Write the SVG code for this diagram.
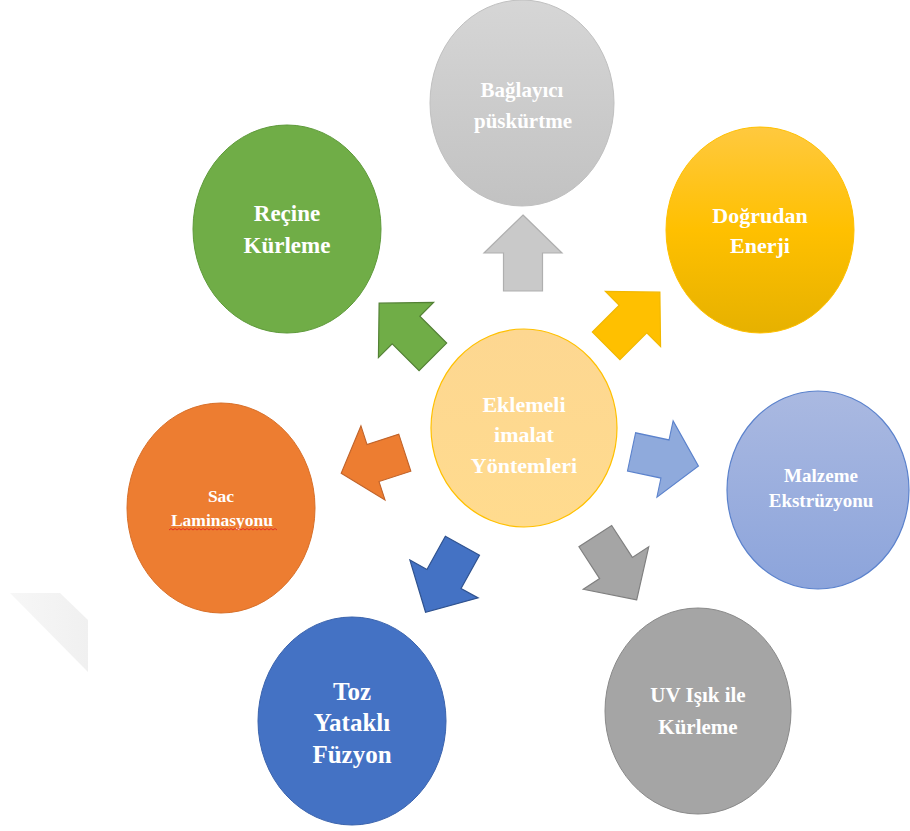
<svg xmlns="http://www.w3.org/2000/svg" xmlns:xlink="http://www.w3.org/1999/xlink" width="910" height="831" viewBox="0 0 910 831">
<style>
.t{font-family:"Liberation Serif","Times New Roman",serif;font-weight:bold;fill:#ffffff;text-anchor:middle}
.arr{stroke-width:1.2;stroke-linejoin:miter}
</style>
<defs>
<linearGradient id="gGray" x1="0" y1="0" x2="0" y2="1"><stop offset="0" stop-color="#D6D6D6"/><stop offset="1" stop-color="#C2C2C2"/></linearGradient>
<linearGradient id="gYel" x1="0" y1="0" x2="0" y2="1"><stop offset="0" stop-color="#FFC93F"/><stop offset="0.5" stop-color="#FFC000"/><stop offset="1" stop-color="#E6B100"/></linearGradient>
<linearGradient id="gPer" x1="0" y1="0" x2="0" y2="1"><stop offset="0" stop-color="#AAB9E1"/><stop offset="1" stop-color="#8CA4DB"/></linearGradient>
<linearGradient id="gCen" x1="0" y1="0" x2="0" y2="1"><stop offset="0" stop-color="#FDD791"/><stop offset="1" stop-color="#FFDB8E"/></linearGradient>
<linearGradient id="gShadow" x1="0" y1="0" x2="1" y2="0"><stop offset="0" stop-color="#F4F4F4"/><stop offset="1" stop-color="#EBEBEB"/></linearGradient>
<path id="arr" d="M0,-38 L39,0 L19.5,0 L19.5,38 L-19.5,38 L-19.5,0 L-39,0 Z"/>
</defs>
<rect width="910" height="831" fill="#ffffff"/>
<polygon points="10,593 60,593 88,620 88,672" fill="url(#gShadow)" opacity="0.75"/>

<g id="connectors">
<use xlink:href="#arr" class="arr" transform="translate(523,253) rotate(0)" fill="#C9C9C9" stroke="#AFAFAF"/>
<use xlink:href="#arr" class="arr" transform="translate(633,319) rotate(45)" fill="#FFC000" stroke="#F2B800"/>
<use xlink:href="#arr" class="arr" transform="translate(665,459) rotate(102) scale(1,0.9)" fill="#8FAADC" stroke="#5B82CC"/>
<use xlink:href="#arr" class="arr" transform="translate(616,568) rotate(147)" fill="#A5A5A5" stroke="#808080"/>
<use xlink:href="#arr" class="arr" transform="translate(444,579) rotate(209)" fill="#4472C4" stroke="#2F528F"/>
<use xlink:href="#arr" class="arr" transform="translate(373,463) rotate(252) scale(1,0.88)" fill="#ED7D31" stroke="#C0632A"/>
<use xlink:href="#arr" class="arr" transform="translate(406,330) rotate(-45)" fill="#70AD47" stroke="#538135"/>
</g>

<g id="center">
<ellipse cx="524" cy="428" rx="93" ry="99" fill="url(#gCen)" stroke="#FFC000" stroke-width="1.2"/>
<text class="t" x="524" y="412" font-size="22">Eklemeli</text>
<text class="t" x="524" y="442" font-size="22">imalat</text>
<text class="t" x="524" y="473" font-size="22">Yöntemleri</text>
</g>

<g id="baglayici">
<ellipse cx="522" cy="103" rx="92" ry="103" fill="url(#gGray)" stroke="#C0C0C0" stroke-width="1"/>
<text class="t" x="522" y="97" font-size="21">Bağlayıcı</text>
<text class="t" x="523" y="128" font-size="21">püskürtme</text>
</g>

<g id="dogrudan">
<ellipse cx="760" cy="230" rx="94" ry="103" fill="url(#gYel)" stroke="#FFC000" stroke-width="1"/>
<text class="t" x="760" y="223" font-size="22">Doğrudan</text>
<text class="t" x="760" y="253" font-size="22">Enerji</text>
</g>

<g id="malzeme">
<ellipse cx="818" cy="490" rx="91" ry="99" fill="url(#gPer)" stroke="#5B82CC" stroke-width="1.2"/>
<text class="t" x="821" y="482" font-size="19">Malzeme</text>
<text class="t" x="821" y="507" font-size="19">Ekstrüzyonu</text>
</g>

<g id="uv">
<ellipse cx="698" cy="711" rx="93" ry="103" fill="#A5A5A5" stroke="#8A8A8A" stroke-width="1"/>
<text class="t" x="698" y="702" font-size="21">UV Işık ile</text>
<text class="t" x="698" y="734" font-size="21">Kürleme</text>
</g>

<g id="toz">
<ellipse cx="352" cy="721" rx="94" ry="104" fill="#4472C4" stroke="#3A63AD" stroke-width="1"/>
<text class="t" x="352" y="700" font-size="25">Toz</text>
<text class="t" x="352" y="731" font-size="25">Yataklı</text>
<text class="t" x="352" y="763" font-size="25">Füzyon</text>
</g>

<g id="sac">
<ellipse cx="221" cy="508" rx="94" ry="105" fill="#ED7D31" stroke="#D86F28" stroke-width="1"/>
<text class="t" x="221" y="502" font-size="17.5">Sac</text>
<text class="t" x="222" y="526" font-size="17.5">Laminasyonu</text>
<path d="M169,530 l2,-1.5 l2,1.5 l2,-1.5 l2,1.5 l2,-1.5 l2,1.5 l2,-1.5 l2,1.5 l2,-1.5 l2,1.5 l2,-1.5 l2,1.5 l2,-1.5 l2,1.5 l2,-1.5 l2,1.5 l2,-1.5 l2,1.5 l2,-1.5 l2,1.5 l2,-1.5 l2,1.5 l2,-1.5 l2,1.5 l2,-1.5 l2,1.5 l2,-1.5 l2,1.5 l2,-1.5 l2,1.5 l2,-1.5 l2,1.5 l2,-1.5 l2,1.5 l2,-1.5 l2,1.5 l2,-1.5 l2,1.5 l2,-1.5 l2,1.5 l2,-1.5 l2,1.5 l2,-1.5 l2,1.5 l2,-1.5 l2,1.5 l2,-1.5 l2,1.5 l2,-1.5 l2,1.5 l2,-1.5 l2,1.5 l2,-1.5 l2,1.5" fill="none" stroke="#E02020" stroke-width="0.8"/>
</g>

<g id="recine">
<ellipse cx="287" cy="229" rx="94" ry="104" fill="#70AD47" stroke="#5E9A3A" stroke-width="1"/>
<text class="t" x="287" y="221" font-size="23">Reçine</text>
<text class="t" x="287" y="253" font-size="23">Kürleme</text>
</g>
</svg>
